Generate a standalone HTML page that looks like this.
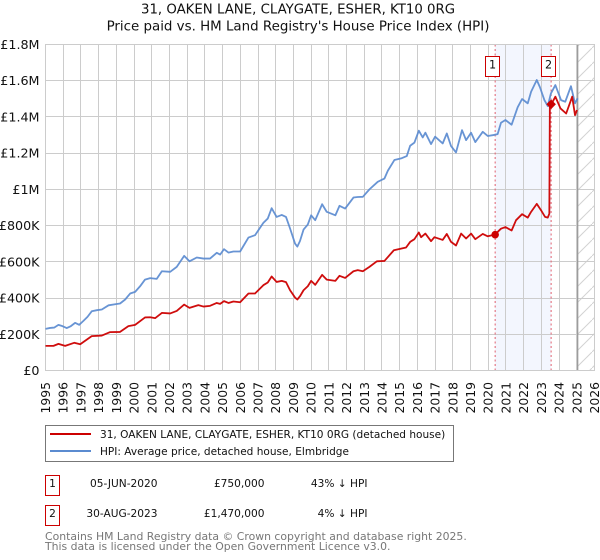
<!DOCTYPE html>
<html>
<head>
<meta charset="utf-8">
<title>31, Oaken Lane price chart</title>
<style>
html,body{margin:0;padding:0;background:#fff;width:600px;height:560px;overflow:hidden}
svg{display:block;font-family:"DejaVu Sans","Liberation Sans",sans-serif}
#series{filter:blur(0.3px)}
</style>
</head>
<body>
<svg id="chart" width="600" height="560" viewBox="0 0 600 560">
  <defs>
    <pattern id="hatch" patternUnits="userSpaceOnUse" width="16" height="16">
      <path d="M-1 17 L17 -1" stroke="#d2d2d2" stroke-width="1" fill="none"/>
    </pattern>
  </defs>
  <text x="298" y="13.5" font-size="13.3" text-anchor="middle" fill="#111">31, OAKEN LANE, CLAYGATE, ESHER, KT10 0RG</text>
  <text x="298" y="30.5" font-size="13.4" text-anchor="middle" fill="#111">Price paid vs. HM Land Registry's House Price Index (HPI)</text>
  <g id="band"></g>
  <g id="grid"></g>
  <g id="annot"></g>
  <g id="series"></g>
  <g id="ticks"></g>

  <g>
    <rect x="45.5" y="425.5" width="408" height="36" fill="#fff" stroke="#777" stroke-width="1"/>
    <line x1="50" x2="91" y1="434" y2="434" stroke="#c00" stroke-width="2"/>
    <text x="100" y="438" font-size="10.55" fill="#111">31, OAKEN LANE, CLAYGATE, ESHER, KT10 0RG (detached house)</text>
    <line x1="50" x2="91" y1="451" y2="451" stroke="#5b8bd0" stroke-width="2"/>
    <text x="100" y="455" font-size="10.55" fill="#111">HPI: Average price, detached house, Elmbridge</text>
  </g>

  <g font-size="10.6" fill="#111">
    <rect x="45.5" y="475.5" width="14" height="20" fill="#fff" stroke="#c00" stroke-width="1"/>
    <text x="52.5" y="487" text-anchor="middle">1</text>
    <text x="157.5" y="487" text-anchor="end">05-JUN-2020</text>
    <text x="264.5" y="487" text-anchor="end">£750,000</text>
    <text x="367.5" y="487" text-anchor="end">43% ↓ HPI</text>
  </g>
  <g font-size="10.6" fill="#111">
    <rect x="45.5" y="505.5" width="14" height="20" fill="#fff" stroke="#c00" stroke-width="1"/>
    <text x="52.5" y="517" text-anchor="middle">2</text>
    <text x="157.5" y="517" text-anchor="end">30-AUG-2023</text>
    <text x="264.5" y="517" text-anchor="end">£1,470,000</text>
    <text x="367.5" y="517" text-anchor="end">4% ↓ HPI</text>
  </g>
  <text x="45" y="540" font-size="10.85" fill="#777">Contains HM Land Registry data © Crown copyright and database right 2025.</text>
  <text x="45" y="550" font-size="10.85" fill="#777">This data is licensed under the Open Government Licence v3.0.</text>
</svg>
<script>
var yearTicks = [1995,1996,1997,1998,1999,2000,2001,2002,2003,2004,2005,2006,2007,2008,2009,2010,2011,2012,2013,2014,2015,2016,2017,2018,2019,2020,2021,2022,2023,2024,2025,2026];
var valueTicks = [0,200,400,600,800,1000,1200,1400,1600,1800];
var valueTickLabels = ["£0","£200K","£400K","£600K","£800K","£1M","£1.2M","£1.4M","£1.6M","£1.8M"];

var hpiYears = [1995,1995.26,1995.49,1995.73,1995.96,1996.2,1996.43,1996.67,1996.9,1997.14,1997.37,1997.61,1997.9,1998.18,1998.56,1998.93,1999.21,1999.5,1999.78,2000.06,2000.34,2000.62,2000.91,2001.28,2001.57,2002.04,2002.41,2002.83,2003.13,2003.54,2003.92,2004.29,2004.67,2004.86,2005.08,2005.33,2005.61,2005.99,2006.46,2006.83,2007.3,2007.55,2007.77,2008.05,2008.34,2008.58,2008.81,2009.09,2009.22,2009.37,2009.57,2009.81,2010,2010.23,2010.62,2010.88,2011.37,2011.6,2011.92,2012.39,2012.63,2012.92,2013.29,2013.76,2014.14,2014.33,2014.7,2015.08,2015.4,2015.59,2015.83,2016.08,2016.3,2016.45,2016.77,2017,2017.43,2017.66,2017.9,2018.18,2018.52,2018.75,2019.03,2019.27,2019.69,2019.97,2020.29,2020.53,2020.72,2020.97,2021.32,2021.66,2021.91,2022.23,2022.42,2022.74,2022.92,2023.17,2023.36,2023.54,2023.79,2024.11,2024.35,2024.67,2024.9,2025.05];
var hpiValues = [230,235,237,252,245,234,245,263,252,274,296,327,333,337,360,366,370,392,425,434,465,502,510,506,548,545,572,633,603,624,618,618,650,640,670,651,657,657,734,747,815,839,896,848,859,848,784,701,684,715,778,806,857,830,918,876,857,909,894,955,958,959,1000,1042,1060,1103,1162,1171,1184,1241,1258,1324,1287,1313,1250,1291,1254,1309,1239,1204,1327,1272,1313,1261,1318,1295,1300,1305,1368,1383,1357,1453,1499,1475,1539,1604,1564,1493,1460,1530,1576,1493,1484,1570,1475,1503];

var priceYears = [1995,1995.45,1995.73,1996.11,1996.62,1996.96,1997.61,1998.18,1998.65,1999.21,1999.68,2000.06,2000.62,2000.91,2001.19,2001.57,2002.04,2002.41,2002.83,2003.13,2003.63,2003.92,2004.29,2004.67,2004.86,2005.08,2005.33,2005.61,2005.99,2006.46,2006.83,2007.3,2007.55,2007.77,2008.05,2008.34,2008.58,2008.81,2009.09,2009.22,2009.37,2009.57,2009.81,2010,2010.23,2010.62,2010.88,2011.37,2011.6,2011.92,2012.39,2012.63,2012.92,2013.29,2013.71,2014.14,2014.67,2015.36,2015.59,2015.83,2016.08,2016.21,2016.45,2016.77,2016.96,2017.43,2017.66,2017.9,2018.18,2018.47,2018.75,2019.03,2019.27,2019.69,2019.97,2020.37,2020.72,2020.97,2021.32,2021.57,2021.91,2022.23,2022.42,2022.74,2022.98,2023.21,2023.36,2023.45,2023.48,2023.56,2023.79,2024.08,2024.4,2024.74,2024.9,2025.01];
var priceValues = [136,136,147,136,153,145,190,193,212,213,245,252,293,294,289,318,315,329,364,346,361,353,357,373,368,383,373,381,377,425,425,471,486,519,489,495,488,443,403,392,410,443,465,495,473,528,502,495,523,511,548,554,548,572,603,605,664,679,710,725,762,736,756,714,736,721,754,710,690,756,729,756,725,754,741,750,783,792,773,830,863,844,876,920,885,848,844,866,1470,1470,1512,1447,1419,1512,1410,1438];

var saleNumbers = ["1","2"];
var saleYears = [2020.39,2023.55];
var saleValues = [750,1470];
var dataEndYear = 2025.05;

var NS = "http://www.w3.org/2000/svg";
var L = 45.5, R = 594.5, T = 44.5, B = 370.5;
function xScale(year){ return L + (year - 1995) * (R - L) / 31; }
function yScale(v){ return B - v * (B - T) / 1800; }
function make(parent, tag, attrs){
  var el = document.createElementNS(NS, tag);
  for (var k in attrs) el.setAttribute(k, attrs[k]);
  parent.appendChild(el);
  return el;
}
function snap(v){ return Math.round(v - 0.5) + 0.5; }

var bandG = document.getElementById("band");
var gridG = document.getElementById("grid");
var annotG = document.getElementById("annot");
var seriesG = document.getElementById("series");
var ticksG = document.getElementById("ticks");

var band = make(bandG, "rect", {x: xScale(saleYears[0]), y: T, width: xScale(saleYears[1]) - xScale(saleYears[0]), height: B - T, fill: "#f3f6fe"});



var hatch = make(bandG, "rect", {x: xScale(dataEndYear), y: T, width: R - xScale(dataEndYear), height: B - T, fill: "url(#hatch)"});



yearTicks.forEach(function(yr){
  var x = snap(xScale(yr));
  var g = make(gridG, "line", {x1: x, x2: x, y1: T, y2: B, stroke: "#ccc", "stroke-width": 1});
  
  
  var t = make(ticksG, "text", {"font-size": 12.4, fill: "#111", "text-anchor": "end", transform: "translate(" + (xScale(yr) + 4.5) + ",382) rotate(-90)"});
  t.textContent = yr;
  
  
});
valueTicks.forEach(function(v, i){
  var y = snap(yScale(v));
  var g = make(gridG, "line", {x1: L, x2: R, y1: y, y2: y, stroke: "#ccc", "stroke-width": 1});
  
  
  var t = make(ticksG, "text", {x: 39.5, y: yScale(v) + 4.5, "font-size": 12.7, fill: "#111", "text-anchor": "end"});
  t.textContent = valueTickLabels[i];
  
  
});

var endLine = make(annotG, "line", {x1: xScale(dataEndYear), x2: xScale(dataEndYear), y1: T, y2: B, stroke: "#999", "stroke-width": 1.3});



saleYears.forEach(function(yr){
  var x = xScale(yr);
  var d = make(annotG, "line", {x1: x, x2: x, y1: T, y2: B, stroke: "#e0606e", "stroke-width": 1, "stroke-dasharray": "2 2.5"});
  
  
});

function pathFrom(xs, ys){
  return xs.map(function(yr, i){ return (i ? "L" : "M") + xScale(yr).toFixed(2) + " " + yScale(ys[i]).toFixed(2); }).join(" ");
}
var hpiLine = make(seriesG, "path", {d: pathFrom(hpiYears, hpiValues), fill: "none", stroke: "#5b8bd0", "stroke-width": 1.8, "stroke-linejoin": "round", opacity: 0.92});



var priceLine = make(seriesG, "path", {d: pathFrom(priceYears, priceValues), fill: "none", stroke: "#cc0000", "stroke-width": 1.8, "stroke-linejoin": "round", opacity: 0.95});



var m1 = make(seriesG, "circle", {cx: xScale(saleYears[0]), cy: yScale(saleValues[0]), r: 3.8, fill: "#cc0000"});



var m2x = xScale(saleYears[1]), m2y = yScale(saleValues[1]);
var m2 = make(seriesG, "path", {d: "M" + m2x + " " + (m2y - 4.8) + " L" + (m2x + 4.8) + " " + m2y + " L" + m2x + " " + (m2y + 4.8) + " L" + (m2x - 4.8) + " " + m2y + " Z", fill: "#cc0000"});



saleYears.forEach(function(yr, i){
  var x = Math.round(xScale(yr)) - 9.5;
  var box = make(annotG, "rect", {x: x, y: 56.5, width: 14, height: 20, fill: "#fff", stroke: "#c00", "stroke-width": 1});
  
  
  var t = make(annotG, "text", {x: x + 7, y: 68.5, "font-size": 11.2, fill: "#111", "text-anchor": "middle"});
  t.textContent = saleNumbers[i];
  
  
});

var frame = make(annotG, "rect", {x: L, y: T, width: R - L, height: B - T, fill: "none", stroke: "#ccc", "stroke-width": 1});


</script>
</body>
</html>
